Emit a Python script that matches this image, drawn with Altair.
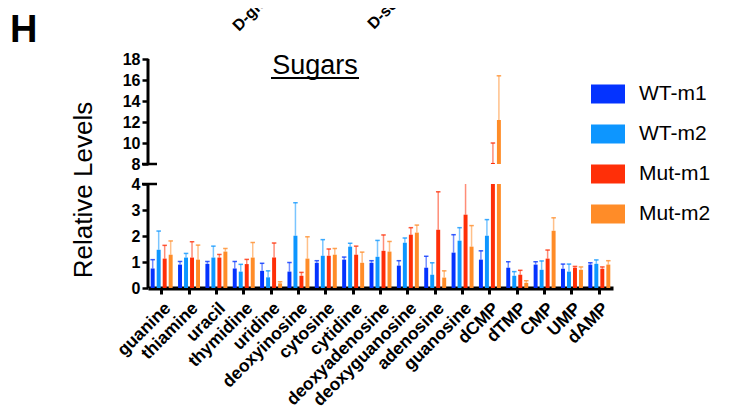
import altair as alt
import pandas as pd

categories = ["guanine", "thiamine", "uracil", "thymidine", "uridine", "deoxyinosine",
              "cytosine", "cytidine", "deoxyadenosine", "deoxyguanosine", "adenosine",
              "guanosine", "dCMP", "dTMP", "CMP", "UMP", "dAMP"]
series = ["WT-m1", "WT-m2", "Mut-m1", "Mut-m2"]
colors = ["#0433FF", "#0D96FF", "#FF2F08", "#FF8C28"]

wt_m1 = [0.75, 0.90, 0.93, 0.75, 0.66, 0.63, 0.97, 1.09, 0.97, 0.86, 0.78, 1.36, 1.09, 0.78, 0.90, 0.74, 0.90]
wt_m1_hi = [1.09, 1.02, 1.02, 1.02, 0.95, 0.98, 1.05, 1.19, 1.05, 1.05, 1.22, 2.05, 1.43, 1.01, 1.01, 0.92, 0.97]
wt_m2 = [1.47, 1.17, 1.17, 0.63, 0.41, 2.01, 1.24, 1.59, 1.20, 1.74, 0.51, 1.82, 2.01, 0.47, 0.70, 0.63, 0.93]
wt_m2_hi = [2.19, 1.33, 1.61, 0.91, 0.66, 3.28, 1.86, 1.72, 1.83, 1.92, 0.97, 2.32, 2.63, 0.63, 1.04, 0.92, 1.08]
mut_m1 = [1.13, 1.17, 1.17, 0.92, 1.17, 0.47, 1.24, 1.28, 1.43, 2.05, 2.24, 2.82, 8.10, 0.51, 1.13, 0.78, 0.74]
mut_m1_hi = [1.64, 1.78, 1.29, 1.10, 1.73, 0.60, 1.50, 1.61, 2.04, 2.32, 3.70, 4.30, 10.0, 0.68, 1.46, 0.83, 0.81]
mut_m2 = [1.28, 1.09, 1.40, 1.17, 0.18, 1.13, 1.28, 0.97, 1.40, 2.13, 0.40, 1.59, 12.2, 0.20, 2.20, 0.70, 0.90]
mut_m2_hi = [1.81, 1.65, 1.52, 1.75, 0.24, 1.97, 1.52, 1.38, 1.79, 2.42, 0.66, 2.40, 16.4, 0.28, 2.70, 0.81, 1.05]

y_ticks = [0, 1, 2, 3, 4, 8, 10, 12, 14, 16, 18]
y_domain = [0, 4, 8, 18]

means = [wt_m1, wt_m2, mut_m1, mut_m2]
highs = [wt_m1_hi, wt_m2_hi, mut_m1_hi, mut_m2_hi]
rows = []
for s, m, h in zip(series, means, highs):
    for c, v, hi in zip(categories, m, h):
        rows.append({"cat": c, "series": s, "value": v, "hi": hi})
df = pd.DataFrame(rows)

W, H = 465, 229
FONT = "Liberation Sans"

yscale = alt.Scale(domain=y_domain, range=[H, H - 104, H - 124, 0], nice=False, zero=False)
xscale = alt.Scale(domain=categories, paddingInner=0, paddingOuter=0)
xoff = alt.XOffset("series:N", sort=series,
                   scale=alt.Scale(domain=series, paddingInner=0.34, paddingOuter=0.45))
cscale = alt.Scale(domain=series, range=colors)
legend = alt.Legend(title=None, orient="none", legendX=443, legendY=18,
                    symbolType="M-1,-0.56L1,-0.56L1,0.56L-1,0.56Z",
                    symbolSize=1156, symbolStrokeWidth=0, symbolOpacity=1,
                    labelFontSize=21, labelFont=FONT, labelColor="black",
                    labelOffset=14, rowPadding=13, padding=0)
color = alt.Color("series:N", scale=cscale, legend=legend)

xaxis = alt.Axis(title=None, labelAngle=-45, labelFontSize=17.5, labelFontWeight="bold",
                 labelFont=FONT, labelColor="black", tickSize=6, tickWidth=3,
                 tickColor="black", domainWidth=4, domainColor="black",
                 labelPadding=5, labelAlign="right", labelBaseline="top",
                 labelOverlap=False, labelLimit=300)
yaxis_def = alt.Axis(title=None, values=y_ticks, labelFontSize=16, labelFontWeight="bold",
                     labelFont=FONT, labelColor="black", tickSize=6, tickWidth=2.5,
                     tickColor="black", domain=False, grid=False, labelPadding=2,
                     labelOverlap=False)

xenc = alt.X("cat:N", scale=xscale, sort=categories, axis=xaxis)


def yq(field):
    return alt.Y(field, scale=yscale, axis=yaxis_def)


base = alt.Chart(df)

bars = base.mark_bar(opacity=1).encode(
    x=xenc, xOffset=xoff, y=yq("value:Q"), color=color)

err = base.mark_rule(strokeWidth=1.5, opacity=0.55).encode(
    x=xenc, xOffset=xoff, y=yq("value:Q"), y2="hi:Q", color=color)

caps = base.mark_tick(thickness=1.5, size=4.5, opacity=0.8).encode(
    x=xenc, xOffset=xoff, y=yq("hi:Q"), color=color)

gapdf = pd.DataFrame({"lo": [4], "top": [8]})
gap = alt.Chart(gapdf).mark_rect(color="white").encode(
    x=alt.value(2), x2=alt.value(W + 5), y=yq("lo:Q"), y2="top:Q")

seg = pd.DataFrame({"lo": [0, 8], "top": [4, 18]})
yaxis = alt.Chart(seg).mark_rule(color="black", strokeWidth=3).encode(
    x=alt.value(0), y=yq("lo:Q"), y2="top:Q")

brk = pd.DataFrame({"lo": [4, 8]})
breaks = alt.Chart(brk).mark_rule(color="black", strokeWidth=2.5).encode(
    x=alt.value(-6), x2=alt.value(9), y=yq("lo:Q"))

txt = pd.DataFrame({"a": [0]})
title = alt.Chart(txt).mark_text(text="Sugars", fontSize=27, font=FONT, align="center",
                                 baseline="alphabetic", color="black").encode(
    x=alt.value(167), y=alt.value(15))
underline = alt.Chart(txt).mark_rule(color="black", strokeWidth=2).encode(
    x=alt.value(123), x2=alt.value(211), y=alt.value(19))
ytitle = alt.Chart(txt).mark_text(text="Relative Levels", fontSize=26, font=FONT, angle=270,
                                  align="center", baseline="middle", color="black").encode(
    x=alt.value(-64), y=alt.value(131))
hlabel = alt.Chart(txt).mark_text(text="H", fontSize=38, font=FONT, fontWeight="bold",
                                  align="left", baseline="alphabetic", color="black").encode(
    x=alt.value(-138), y=alt.value(-17))
top1 = alt.Chart(txt).mark_text(text="D-glucose", fontSize=16, font=FONT, fontWeight="bold",
                                angle=315, align="left", baseline="bottom", color="black").encode(
    x=alt.value(93), y=alt.value(-25))
top2 = alt.Chart(txt).mark_text(text="D-sedoheptulose", fontSize=16, font=FONT, fontWeight="bold",
                                angle=315, align="left", baseline="bottom", color="black").encode(
    x=alt.value(228), y=alt.value(-27))

chart = alt.layer(bars, err, caps, gap, yaxis, breaks, title, underline, ytitle, hlabel,
                  top1, top2).properties(
    width=W, height=H,
    autosize=alt.AutoSizeParams(type="none"),
    padding={"left": 140, "top": 51, "right": 100, "bottom": 140},
).configure_view(stroke=None).configure_axis(grid=False).configure_axisY(labelOverlap=False)

chart.save("out.html", embed_options={"renderer": "svg", "actions": False})
